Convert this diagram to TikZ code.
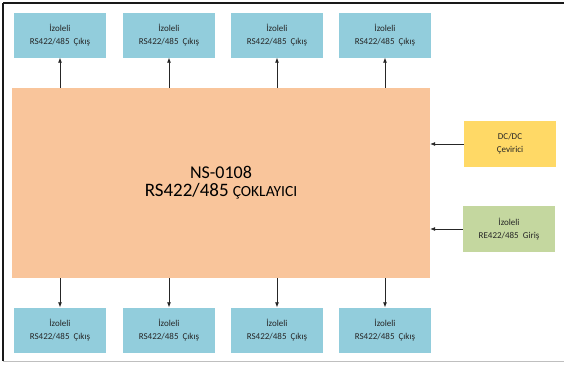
\documentclass[tikz,border=0pt]{standalone}
\usepackage{fontspec}
\setmainfont{Carlito}
\usetikzlibrary{arrows.meta}
\definecolor{cyanbox}{HTML}{92CDDC}
\definecolor{peach}{HTML}{F9C59B}
\definecolor{yellowbox}{HTML}{FFD966}
\definecolor{greenbox}{HTML}{C4D79F}
\definecolor{txt}{HTML}{262626}
\tikzset{
  outbox/.style={fill=cyanbox, draw=none, minimum width=92pt, minimum height=45pt, inner sep=0pt, align=center, font=\fontsize{9}{13}\selectfont, text=txt},
  sidebox/.style={draw=none, minimum width=92pt, minimum height=46pt, inner sep=0pt, align=center, font=\fontsize{9}{13}\selectfont, text=txt},
  conn/.style={draw=black!85, line width=0.7pt, -{Latex[length=5pt,width=4pt]}}
}
\begin{document}
\begin{tikzpicture}[x=1pt,y=-1pt]
\useasboundingbox (0,0) rectangle (564,364);
% frame
\draw[black!90, line width=2pt] (3,3) -- (564,3);
\draw[black!90, line width=2pt] (3,3) -- (3,361);
\draw[black!25, line width=1pt] (3,361) -- (564,361);
% main box
\node[fill=peach, draw=none, minimum width=418pt, minimum height=190pt, inner sep=0pt, align=center, text=black, font=\fontsize{18}{18}\selectfont] (main) at (221,183)
  {NS-0108\\{\fontsize{19}{18}\selectfont RS422/485} {\fontsize{15.5}{18}\selectfont ÇOKLAYICI}};
% top boxes
\node[outbox] (t1) at (60,35) {İzoleli\\RS422/485\ \ Çıkış};
\node[outbox] (t2) at (169,35) {İzoleli\\RS422/485\ \ Çıkış};
\node[outbox] (t3) at (277,35) {İzoleli\\RS422/485\ \ Çıkış};
\node[outbox] (t4) at (385,35) {İzoleli\\RS422/485\ \ Çıkış};
% bottom boxes
\node[outbox] (b1) at (60,330) {İzoleli\\RS422/485\ \ Çıkış};
\node[outbox] (b2) at (169,330) {İzoleli\\RS422/485\ \ Çıkış};
\node[outbox] (b3) at (277,330) {İzoleli\\RS422/485\ \ Çıkış};
\node[outbox] (b4) at (385,330) {İzoleli\\RS422/485\ \ Çıkış};
% side boxes
\node[sidebox, fill=yellowbox] (dc) at (510,144) {DC/DC\\Çevirici};
\node[sidebox, fill=greenbox] (in) at (509,229) {İzoleli\\RE422/485\ \ Giriş};
% connectors
\foreach \i in {1,2,3,4} {
  \draw[conn] (main.north -| t\i.south) -- (t\i.south);
  \draw[conn] (main.south -| b\i.north) -- (b\i.north);
}
\draw[conn] (dc.west) -- (dc.west -| main.east);
\draw[conn] (in.west) -- (in.west -| main.east);
\end{tikzpicture}
\end{document}
